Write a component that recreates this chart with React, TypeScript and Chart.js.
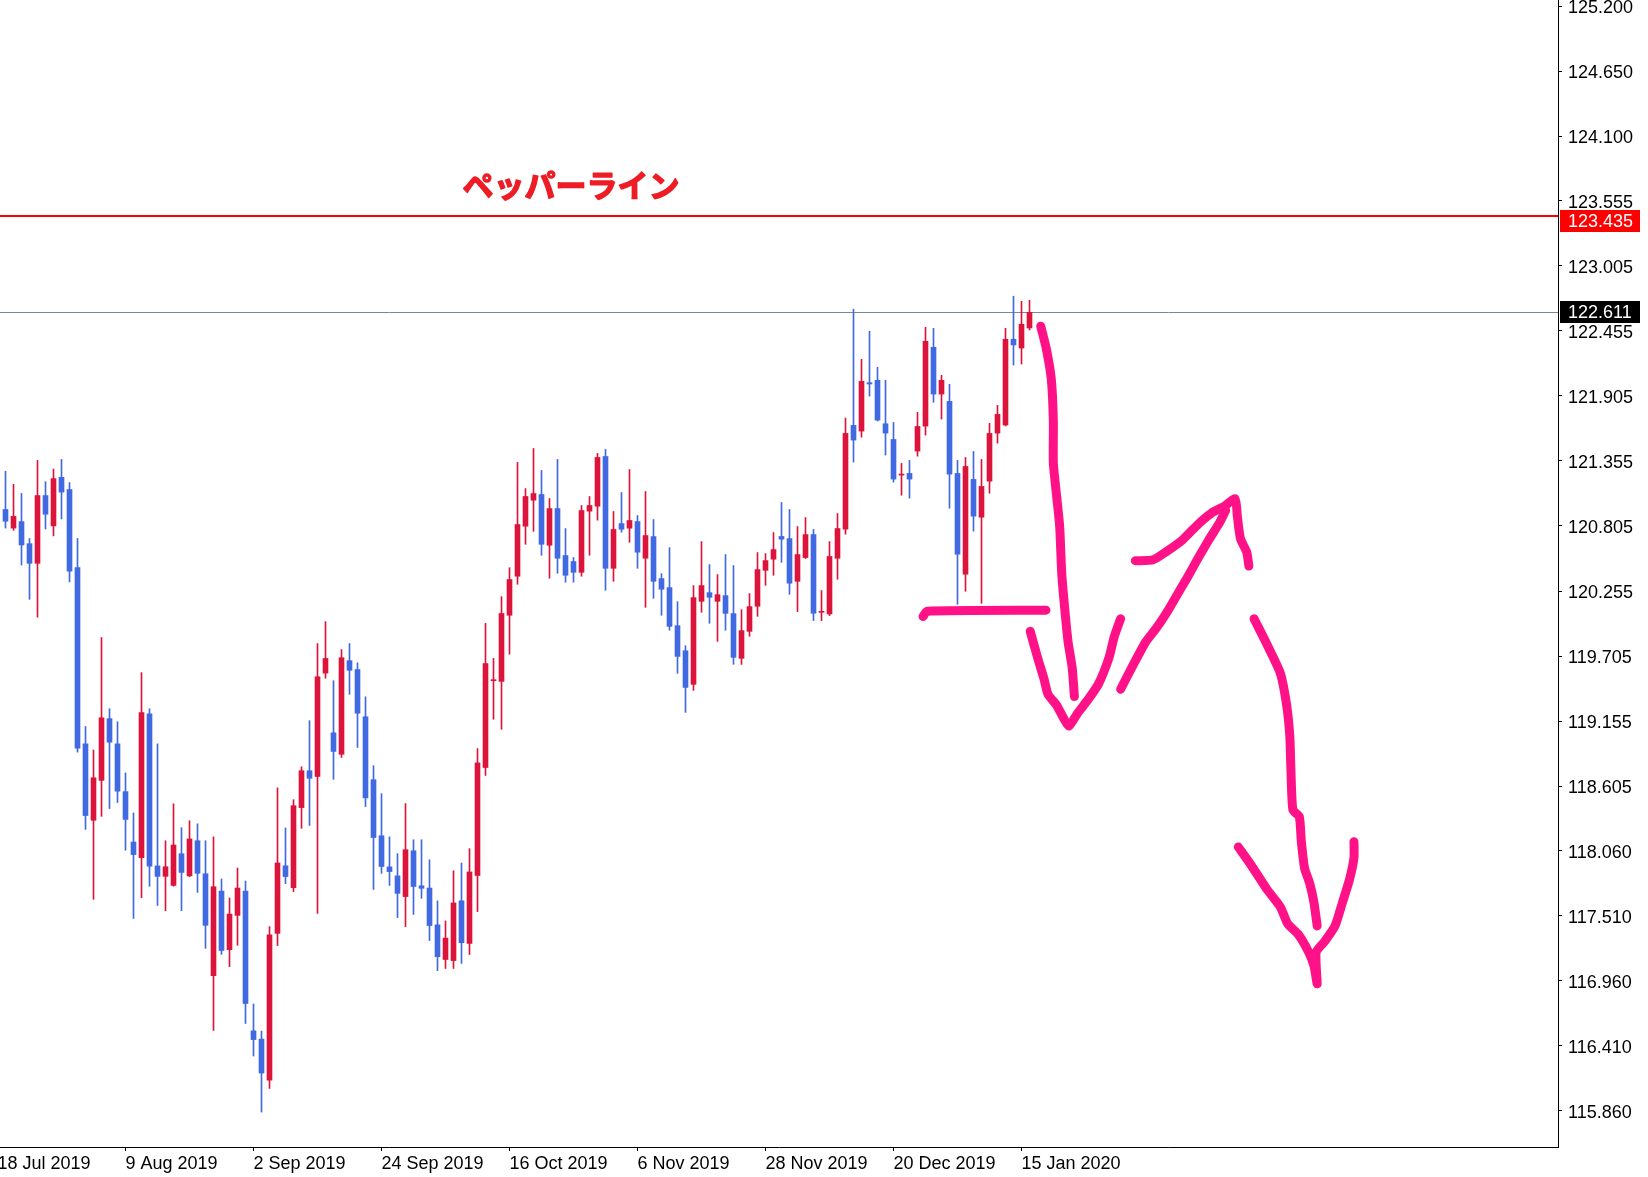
import React, { useEffect, useRef } from 'react';
import { Chart, registerables } from 'chart.js';

Chart.register(...registerables);

// ---- Data -----------------------------------------------------------------
const dateLabels = ['18 Jul 2019', '9 Aug 2019', '2 Sep 2019', '24 Sep 2019', '16 Oct 2019', '6 Nov 2019', '28 Nov 2019', '20 Dec 2019', '15 Jan 2020'];
const dateTickIndex = [-1, 15, 31, 47, 63, 79, 95, 111, 127];

const priceTicks = [125.2, 124.65, 124.1, 123.555, 123.005, 122.455, 121.905, 121.355, 120.805, 120.255, 119.705, 119.155, 118.605, 118.06, 117.51, 116.96, 116.41, 115.86];

const opens = [
  120.944, 120.787, 120.842, 120.655, 120.489, 121.062, 120.805, 121.216, 121.113, 120.453,
  118.963, 118.317, 118.654, 119.176, 118.963, 118.559, 118.133, 118.001, 119.216, 117.931,
  117.843, 117.766, 118.034, 117.847, 118.144, 117.865, 117.003, 117.718, 117.223, 117.513,
  117.718, 116.537, 116.467, 116.120, 117.361, 117.932, 117.747, 118.424, 118.736, 118.687,
  119.561, 119.056, 118.875, 119.666, 119.591, 119.192, 118.660, 118.186, 117.923, 117.847,
  117.672, 118.059, 117.763, 117.744, 117.433, 117.140, 117.131, 117.636, 117.276, 117.850,
  118.763, 119.497, 119.491, 120.050, 120.380, 120.803, 121.023, 121.071, 120.642, 120.952,
  120.555, 120.504, 120.413, 120.930, 120.972, 121.392, 120.447, 120.825, 120.786, 120.842,
  120.532, 120.715, 120.360, 120.284, 119.962, 119.750, 119.466, 120.168, 120.241, 120.168,
  120.216, 120.064, 119.686, 119.914, 120.126, 120.430, 120.524, 120.716, 120.698, 120.337,
  120.538, 120.732, 120.075, 120.061, 120.532, 120.778, 121.655, 121.607, 122.016, 122.036,
  121.669, 121.536, 121.235, 121.249, 121.438, 121.649, 122.315, 121.920, 121.858, 121.249,
  120.397, 121.198, 120.879, 121.184, 121.590, 121.658, 122.383, 122.309, 122.479,
];
const highs = [
  121.267, 121.157, 121.080, 120.699, 121.359, 121.179, 121.286, 121.367, 121.172, 120.699,
  119.110, 118.911, 119.862, 119.260, 119.150, 118.717, 118.379, 119.565, 119.260, 118.963,
  118.144, 118.456, 118.254, 118.313, 118.287, 118.144, 118.177, 117.821, 117.660, 117.913,
  117.803, 116.764, 116.535, 117.418, 118.591, 118.252, 118.491, 118.769, 119.159, 119.811,
  119.996, 119.497, 119.760, 119.811, 119.648, 119.361, 118.778, 118.542, 118.177, 118.035,
  118.458, 118.152, 118.152, 117.983, 117.636, 117.466, 117.890, 117.956, 118.077, 118.923,
  119.981, 119.685, 120.207, 120.452, 121.342, 121.121, 121.460, 121.274, 121.037, 121.367,
  120.783, 120.538, 120.978, 121.054, 121.418, 121.452, 120.927, 121.088, 121.282, 120.893,
  121.096, 120.859, 120.402, 120.622, 120.165, 119.793, 120.301, 120.673, 120.478, 120.394,
  120.563, 120.470, 120.097, 120.233, 120.580, 120.571, 120.749, 121.003, 120.944, 120.800,
  120.876, 120.775, 120.259, 120.673, 120.910, 121.717, 122.637, 122.213, 122.450, 122.146,
  122.036, 121.680, 121.333, 121.359, 121.765, 122.484, 122.476, 122.078, 122.002, 121.359,
  121.384, 121.435, 121.367, 121.672, 121.824, 122.476, 122.747, 122.704, 122.713,
];
const lows = [
  120.787, 120.768, 120.475, 120.185, 120.034, 120.779, 120.721, 120.864, 120.332, 118.893,
  118.240, 117.649, 118.350, 118.416, 118.467, 118.064, 117.487, 117.663, 117.759, 117.597,
  117.553, 117.760, 117.553, 117.840, 117.707, 117.234, 116.540, 117.183, 117.080, 117.260,
  116.599, 116.324, 115.850, 116.050, 117.258, 117.781, 117.714, 118.249, 118.273, 117.530,
  119.518, 118.663, 118.848, 119.382, 118.932, 118.433, 117.732, 117.868, 117.766, 117.494,
  117.418, 117.521, 117.657, 117.300, 117.046, 117.064, 117.064, 117.107, 117.182, 117.545,
  118.696, 119.171, 119.086, 119.721, 120.312, 120.650, 120.760, 120.557, 120.363, 120.405,
  120.329, 120.329, 120.380, 120.557, 120.854, 120.261, 120.337, 120.752, 120.667, 120.447,
  120.117, 120.193, 120.050, 119.923, 119.559, 119.229, 119.415, 120.075, 119.982, 119.829,
  119.923, 119.635, 119.635, 119.872, 120.041, 120.303, 120.388, 120.498, 120.227, 120.081,
  120.529, 120.005, 120.005, 120.047, 120.354, 120.735, 121.345, 121.556, 121.903, 121.692,
  121.404, 121.175, 121.065, 121.040, 121.395, 121.573, 121.850, 121.708, 120.955, 120.143,
  120.253, 120.761, 120.151, 121.082, 121.505, 121.650, 122.165, 122.174, 122.462,
];
const closes = [
  120.845, 120.886, 120.644, 120.489, 121.062, 120.904, 121.205, 121.091, 120.423, 118.926,
  118.357, 118.676, 119.183, 118.977, 118.563, 118.324, 118.027, 119.227, 117.928, 117.843,
  117.924, 118.108, 117.876, 118.159, 117.869, 117.429, 117.755, 117.216, 117.524, 117.744,
  116.768, 116.463, 116.180, 117.348, 117.956, 117.841, 118.440, 118.736, 118.672, 119.530,
  119.685, 118.899, 119.691, 119.585, 119.222, 118.506, 118.171, 117.926, 117.883, 117.699,
  118.068, 117.757, 117.742, 117.427, 117.164, 117.321, 117.618, 117.282, 117.880, 118.802,
  119.642, 119.503, 120.065, 120.352, 120.817, 121.054, 121.079, 120.650, 120.952, 120.532,
  120.388, 120.413, 120.935, 120.978, 121.384, 120.447, 120.775, 120.777, 120.851, 120.583,
  120.724, 120.337, 120.270, 119.956, 119.702, 119.440, 120.199, 120.301, 120.202, 120.224,
  120.066, 119.694, 119.920, 120.123, 120.436, 120.512, 120.605, 120.693, 120.321, 120.563,
  120.732, 120.067, 120.081, 120.547, 120.783, 121.587, 121.531, 122.027, 122.005, 121.700,
  121.590, 121.201, 121.240, 121.201, 121.646, 122.366, 121.920, 122.036, 121.243, 120.566,
  121.308, 120.888, 121.139, 121.587, 121.748, 122.383, 122.335, 122.510, 122.611,
];

const pepperLevel = 123.435;
const lastPrice = 122.611;
const pepperLabel = 'ペッパーライン';
const pepperLabelAt = [70.7, 123.686]; // [bar index, price]

// Hand-drawn pink strokes, as [bar index, price] points
const strokeDown1 = [[129.4, 122.494], [130.06, 122.316], [130.72, 122.049], [130.98, 121.693], [130.98, 121.338], [131.37, 121.071], [131.77, 120.804], [132.03, 120.404], [132.42, 120.093], [132.82, 119.826], [133.34, 119.604], [133.61, 119.363]];
const strokeFlat = [[114.69, 120.039], [115.21, 120.084], [130.06, 120.093]];
const strokeDip = [[128.09, 119.915], [129.01, 119.692], [129.8, 119.515], [130.32, 119.381], [131.37, 119.292], [132.29, 119.176], [132.95, 119.114], [134.0, 119.221], [135.31, 119.336], [136.63, 119.47], [137.94, 119.692], [138.6, 119.87], [139.39, 120.021]];
const strokeRise = [[139.39, 119.425], [140.96, 119.63], [142.54, 119.826], [143.85, 119.941], [145.17, 120.075], [146.48, 120.226], [147.8, 120.377], [149.11, 120.537], [150.42, 120.688], [151.74, 120.831], [152.53, 120.937]];
const strokeTop = [[141.23, 120.511], [143.46, 120.519], [145.17, 120.591], [147.14, 120.688], [149.11, 120.822], [150.69, 120.911], [152.39, 120.973], [153.71, 121.035], [153.97, 120.893], [154.37, 120.697], [155.16, 120.582], [155.42, 120.466]];
const strokeDown2 = [[156.07, 120.021], [157.78, 119.79], [159.36, 119.559], [160.14, 119.292], [160.54, 119.025], [160.67, 118.758], [160.93, 118.403], [161.72, 118.349], [161.98, 118.136], [162.38, 117.913], [163.04, 117.78], [163.56, 117.62], [163.96, 117.424]];
const strokeV = [[154.1, 118.091], [155.68, 117.94], [157.65, 117.736], [159.36, 117.584], [160.27, 117.442], [161.59, 117.353], [162.9, 117.202], [163.56, 117.086], [163.96, 116.935], [163.83, 117.202], [164.88, 117.291], [166.19, 117.424], [167.11, 117.62], [168.03, 117.824], [168.56, 118.002], [168.56, 118.136]];
const strokes = [strokeDown1, strokeFlat, strokeDip, strokeRise, strokeTop, strokeDown2, strokeV];

// ---- Styles ----------------------------------------------------------------
const RED = '#dc143c';
const BLUE = '#4169e1';
const PINK = '#ff1288';
const AXIS_FONT = { family: '"Liberation Sans", Arial, sans-serif', size: 18 };

const overlayPlugin = {
  id: 'overlay',
  beforeDatasetsDraw(chart: any) {
    const { ctx, chartArea: a, scales } = chart;
    const y = scales.y;
    const x = scales.x;
    ctx.save();
    const gy = Math.round(y.getPixelForValue(lastPrice)) + 0.5;
    ctx.strokeStyle = '#778899';
    ctx.lineWidth = 1;
    ctx.beginPath();
    ctx.moveTo(a.left, gy);
    ctx.lineTo(a.right, gy);
    ctx.stroke();
    const ry = Math.round(y.getPixelForValue(pepperLevel)) + 1;
    ctx.strokeStyle = '#ff0000';
    ctx.lineWidth = 2;
    ctx.beginPath();
    ctx.moveTo(a.left, ry);
    ctx.lineTo(a.right, ry);
    ctx.stroke();
    ctx.fillStyle = '#ee1c25';
    ctx.strokeStyle = '#ee1c25';
    ctx.lineWidth = 1.4;
    ctx.lineJoin = 'round';
    ctx.font = 'bold 31px "Noto Sans CJK JP", sans-serif';
    ctx.textAlign = 'center';
    ctx.textBaseline = 'middle';
    const tx = x.getPixelForValue(pepperLabelAt[0]);
    const ty = y.getPixelForValue(pepperLabelAt[1]);
    ctx.fillText(pepperLabel, tx, ty);
    ctx.strokeText(pepperLabel, tx, ty);
    ctx.restore();
  },
  afterDraw(chart: any) {
    const { ctx, chartArea: a, scales } = chart;
    const y = scales.y;
    const box = (v: number, bg: string, above: number) => {
      const py = Math.round(y.getPixelForValue(v));
      const top = py - above;
      ctx.save();
      ctx.fillStyle = bg;
      ctx.fillRect(a.right + 2, top, 80, 22);
      ctx.fillStyle = '#ffffff';
      ctx.font = '18px "Liberation Sans", Arial, sans-serif';
      ctx.textAlign = 'left';
      ctx.textBaseline = 'middle';
      ctx.fillText(v.toFixed(3), a.right + 10, top + 12);
      ctx.restore();
    };
    box(pepperLevel, '#ff0000', 5);
    box(lastPrice, '#000000', 11);
  },
};

export default function App() {
  const ref = useRef<HTMLCanvasElement | null>(null);

  useEffect(() => {
    if (!ref.current) return;
    const idx = opens.map((_, i) => i);
    const colors = idx.map((i) => (closes[i] >= opens[i] ? RED : BLUE));

    const lineSets = strokes.map((s) => ({
      type: 'line' as const,
      data: s.map(([px, py]) => ({ x: px, y: py })),
      borderColor: PINK,
      backgroundColor: PINK,
      borderWidth: 9,
      pointRadius: 0,
      borderCapStyle: 'round' as const,
      borderJoinStyle: 'round' as const,
      tension: 0.2,
      fill: false,
      order: 0,
    }));

    const chart = new Chart(ref.current, {
      type: 'bar',
      data: {
        datasets: [
          ...lineSets,
          {
            type: 'bar',
            data: idx.map((i) => ({ x: i, y: [opens[i], closes[i]] })),
            backgroundColor: colors,
            borderWidth: 0,
            barPercentage: 1,
            categoryPercentage: 1,
            maxBarThickness: 5,
            grouped: false,
            minBarLength: 1,
            order: 1,
          },
          {
            type: 'bar',
            data: idx.map((i) => ({ x: i, y: [lows[i], highs[i]] })),
            backgroundColor: colors,
            borderWidth: 0,
            barPercentage: 1,
            categoryPercentage: 1,
            maxBarThickness: 1,
            grouped: false,
            minBarLength: 1,
            order: 2,
          },
        ] as any,
      },
      options: {
        animation: false,
        responsive: false,
        maintainAspectRatio: false,
        events: [],
        layout: { padding: 0 },
        plugins: {
          legend: { display: false },
          tooltip: { enabled: false },
          title: { display: false },
        },
        scales: {
          x: {
            type: 'linear',
            position: 'bottom',
            min: -0.6875,
            max: 194.0625,
            offset: false,
            afterBuildTicks: (s: any) => {
              s.ticks = dateTickIndex.map((v) => ({ value: v }));
            },
            afterFit: (s: any) => {
              s.height = 30;
              s.paddingLeft = 0;
              s.paddingRight = 0;
            },
            ticks: {
              callback: (v: any) => {
                const k = dateTickIndex.indexOf(Number(v));
                return k >= 0 ? dateLabels[k] : '';
              },
              align: 'start',
              autoSkip: false,
              maxRotation: 0,
              minRotation: 0,
              padding: 2,
              color: '#000000',
              font: AXIS_FONT,
            },
            grid: { offset: false, drawOnChartArea: false, drawTicks: true, tickLength: 4, color: '#000000', lineWidth: 1 },
            border: { display: true, color: '#000000', width: 1 },
          },
          y: {
            type: 'linear',
            position: 'right',
            min: 115.555,
            max: 125.251,
            afterBuildTicks: (s: any) => {
              s.ticks = priceTicks.map((v) => ({ value: v }));
            },
            afterFit: (s: any) => {
              s.width = 90;
              s.paddingTop = 0;
              s.paddingBottom = 0;
            },
            ticks: {
              callback: (v: any) => Number(v).toFixed(3),
              autoSkip: false,
              padding: 6,
              labelOffset: 2,
              color: '#000000',
              font: AXIS_FONT,
            },
            grid: { drawOnChartArea: false, drawTicks: true, tickLength: 4, color: '#000000', lineWidth: 1 },
            border: { display: true, color: '#000000', width: 1 },
          },
        },
      } as any,
      plugins: [overlayPlugin],
    });
    return () => chart.destroy();
  }, []);

  return (
    <div style={{ position: 'fixed', left: 0, top: 0, width: 1648, height: 1177, background: '#ffffff' }}>
      <canvas ref={ref} width={1648} height={1177} style={{ display: 'block', width: 1648, height: 1177 }} />
    </div>
  );
}
